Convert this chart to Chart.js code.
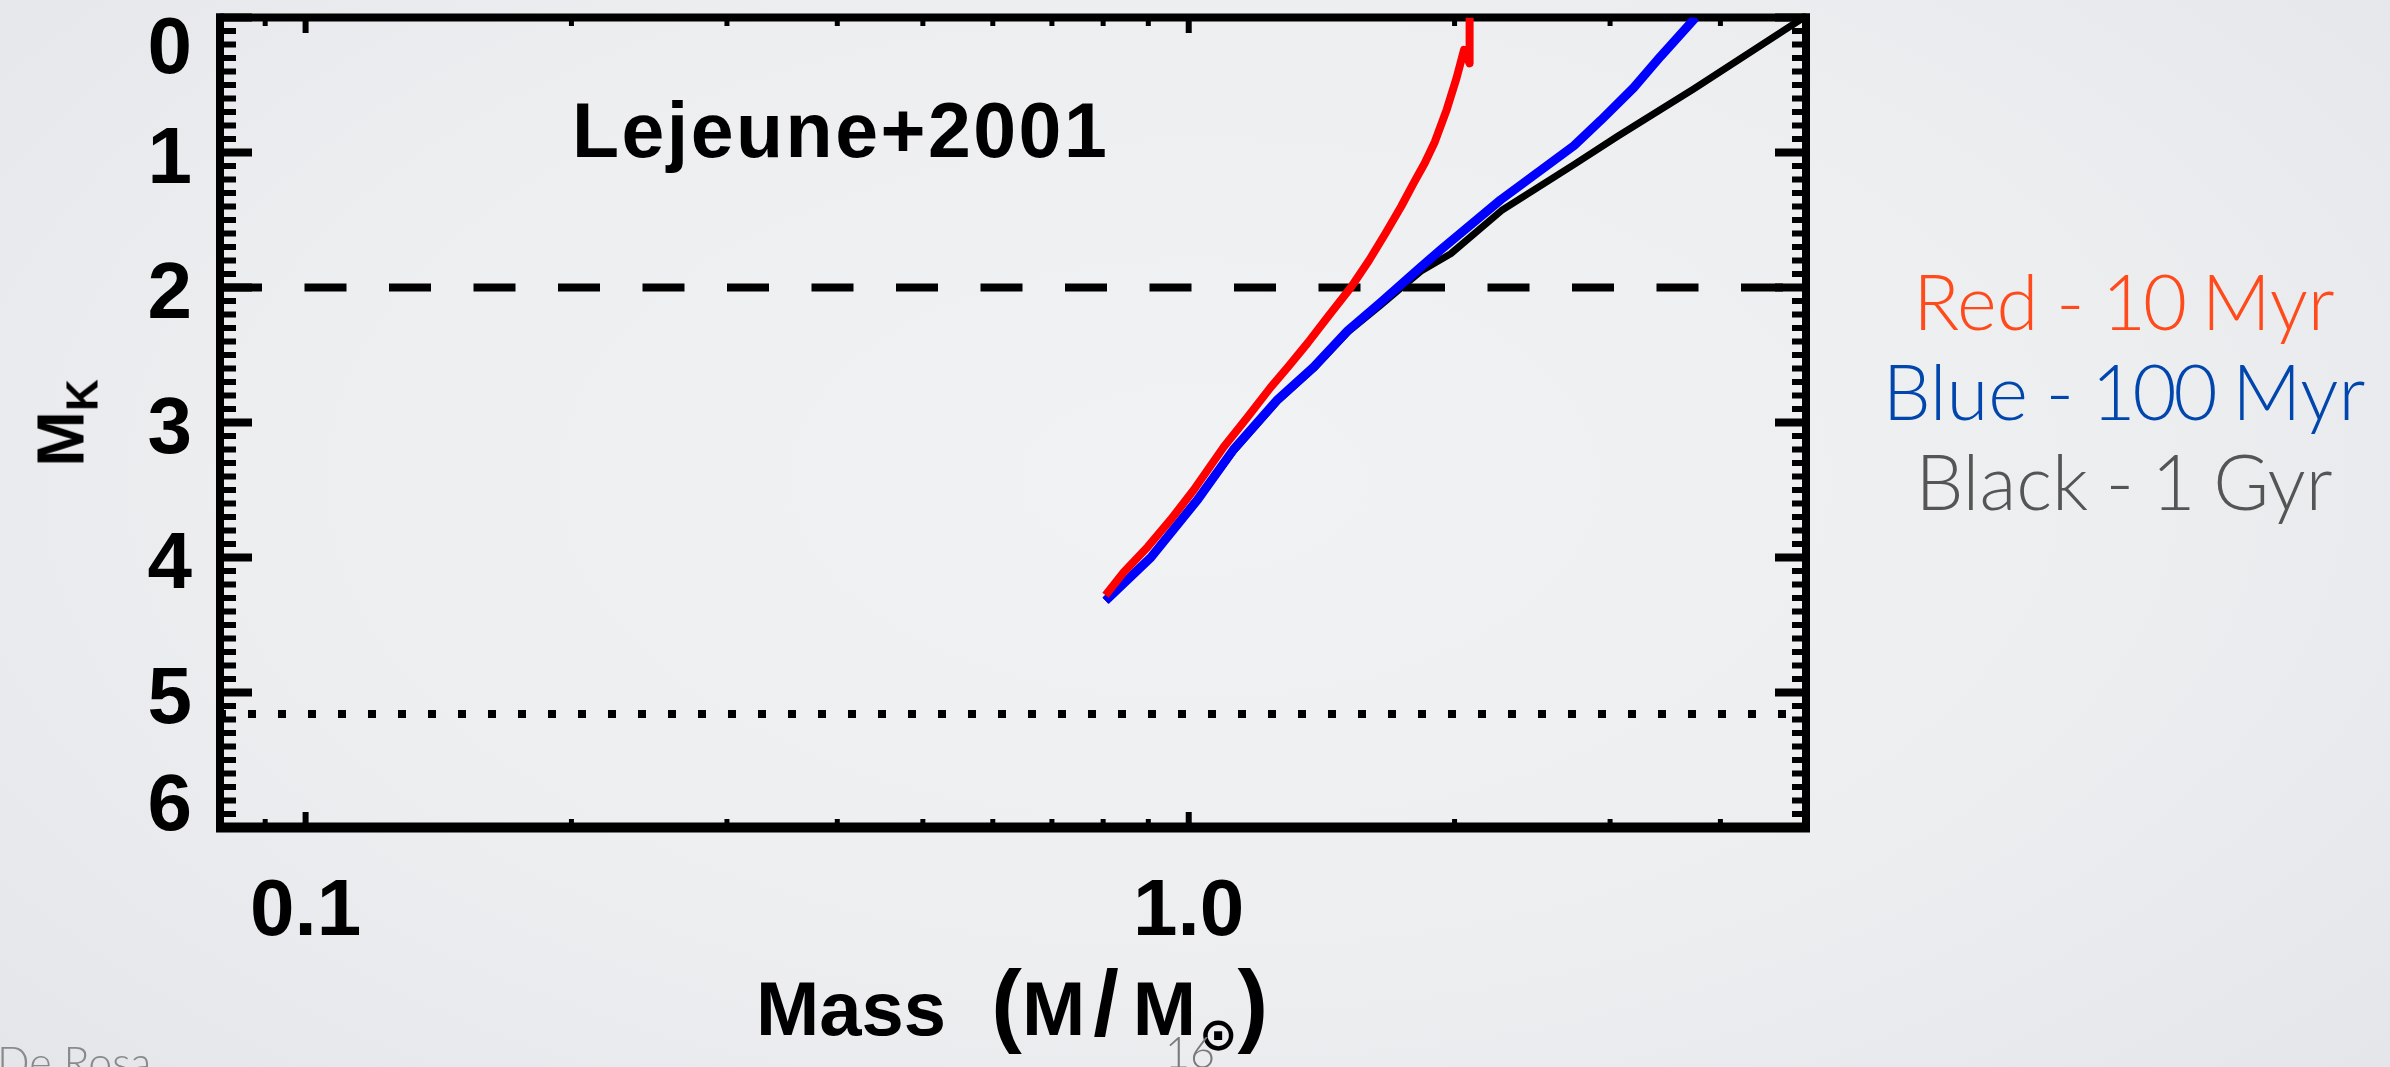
<!DOCTYPE html>
<html lang="en">
<head>
<meta charset="utf-8">
<title>Lejeune+2001 isochrones</title>
<script src="https://cdn.jsdelivr.net/npm/chart.js@4.4.1/dist/chart.umd.min.js"></script>
<style>
  html, body { margin: 0; padding: 0; }
  body {
    position: relative;
    width: 2390px;
    height: 1067px;
    overflow: hidden;
    background: radial-gradient(ellipse 70% 85% at 50% 45%, #f1f2f4 0%, #eceef0 55%, #e4e5e9 100%);
  }
  #isochrones { position: absolute; left: 0; top: 0; }
  .txt { position: absolute; white-space: nowrap; line-height: 1; }
  .idl { font-family: "Liberation Sans", Arial, sans-serif; font-weight: bold; color: #000; }
  .slide { font-family: Lato, "Open Sans", sans-serif; font-weight: 300; }
  #inset { left: 572px; top: 92px; font-size: 77px; letter-spacing: 2.5px; }
  #xtitle { left: 756px; top: 971px; font-size: 76px; }
  #xtitle span { line-height: 0; }
  #xtitle .par { font-size: 92px; }
  #xtitle .open { margin-left: 24px; }
  #xtitle .sl { font-size: 92px; margin: 0 14px 0 8px; }
  #xtitle .sun { font-family: "DejaVu Sans", sans-serif; font-size: 46px; position: relative; top: 15px; margin-left: 3px; }
  #ytitle { left: 60px; top: 423px; font-size: 67px; transform: translate(-50%, -50%) rotate(-90deg); }
  #ytitle .sub { font-size: 44px; position: relative; top: 14px; }
  .key { left: 1824px; width: 600px; text-align: center; font-size: 76px; word-spacing: -3px; }
  .key .n { letter-spacing: -3px; }
  #k10 { top: 263px; color: #ff4a1c; }
  #k100 { top: 353px; color: #0046ad; }
  #k1g { top: 443px; color: #555; }
  #author { left: -3px; top: 1040px; font-size: 43px; color: #8a8a8a; }
  #page { left: 1165px; top: 1030px; font-size: 43px; color: #7a7a7a; }
</style>
</head>
<body>
<canvas id="isochrones" width="2390" height="1067"></canvas>

<div id="inset" class="txt idl">Lejeune+2001</div>
<div id="xtitle" class="txt idl">Mass <span class="par open">(</span>M<span class="sl">/</span>M<span class="sun">⊙</span><span class="par">)</span></div>
<div id="ytitle" class="txt idl">M<span class="sub">K</span></div>

<div id="k10" class="txt slide key">Red - <span class="n">10</span> Myr</div>
<div id="k100" class="txt slide key">Blue - <span class="n">100</span> Myr</div>
<div id="k1g" class="txt slide key">Black - 1 Gyr</div>

<div id="author" class="txt slide">De Rosa</div>
<div id="page" class="txt slide">16</div>

<script>
// isochrones: stellar mass (Msun) vs absolute K magnitude
const redMass = [0.805, 0.844, 0.899, 0.954, 1.013, 1.096, 1.166, 1.238, 1.295, 1.364, 1.436, 1.526,
                 1.60, 1.67, 1.74, 1.80, 1.85, 1.90, 1.96, 2.01, 2.05, 2.08, 2.08];
const redMk   = [4.28, 4.11, 3.92, 3.72, 3.50, 3.18, 2.96, 2.74, 2.59, 2.41, 2.22, 2.00,
                 1.80, 1.60, 1.40, 1.22, 1.08, 0.92, 0.68, 0.45, 0.24, 0.34, 0.0];

const blueMass = [0.805, 0.906, 1.024, 1.124, 1.261, 1.385, 1.514, 1.650, 1.831, 1.93, 2.256, 2.73,
                  2.93, 3.19, 3.42, 3.75];
const blueMk   = [4.32, 4.00, 3.57, 3.20, 2.83, 2.59, 2.32, 2.11, 1.85, 1.72, 1.35, 0.95,
                  0.76, 0.52, 0.29, 0.0];

const blackMass = [0.805, 0.906, 1.024, 1.124, 1.261, 1.385, 1.514, 1.650, 1.831, 1.98, 2.26, 2.73,
                   3.06, 3.73, 4.97];
const blackMk   = [4.32, 4.00, 3.57, 3.21, 2.84, 2.60, 2.33, 2.13, 1.88, 1.75, 1.43, 1.09,
                   0.88, 0.53, 0.0];

// detection limits
const dashedLimit = 2.0;
const dottedLimit = 5.16;

// axes
const massRange = [0.08, 5.0];
const mkRange = [0, 6];
const xTickValues = [0.1, 1];
const xTickLabels = ['0.1', '1.0'];
const xMinorValues = [0.09, 0.2, 0.3, 0.4, 0.5, 0.6, 0.7, 0.8, 0.9, 2, 3, 4];
const yTickValues = [0, 1, 2, 3, 4, 5, 6];
const yTickLabels = ['0', '1', '2', '3', '4', '5', '6'];
const yMinorStep = 0.1;

const pairs = (xs, ys) => xs.map((v, i) => ({x: v, y: ys[i]}));
const across = (v) => [{x: massRange[0], y: v}, {x: massRange[1], y: v}];

const FRAME = 8;

// IDL-style box with inward ticks on all four sides, drawn under the curves
const idlBox = {
  id: 'idlBox',
  beforeDatasetsDraw(chart) {
    const {ctx, chartArea: a, scales: {x, y}} = chart;
    ctx.save();
    ctx.fillStyle = '#000';

    xMinorValues.forEach(v => {
      const px = x.getPixelForValue(v);
      ctx.fillRect(px - 2.5, a.top, 5, 8.5);
      ctx.fillRect(px - 2.5, a.bottom - 8.5, 5, 8.5);
    });
    xTickValues.forEach(v => {
      const px = x.getPixelForValue(v);
      ctx.fillRect(px - 3, a.top, 6, 15.5);
      ctx.fillRect(px - 3, a.bottom - 15.5, 6, 15.5);
    });

    const nMinor = Math.round((mkRange[1] - mkRange[0]) / yMinorStep);
    for (let i = 1; i < nMinor; i++) {
      const v = mkRange[0] + i * yMinorStep;
      if (Math.abs(v - Math.round(v)) < 1e-6) continue;
      const py = y.getPixelForValue(v);
      ctx.fillRect(a.left, py - 3, 16, 6);
      ctx.fillRect(a.right - 14, py - 3, 14, 6);
    }
    yTickValues.forEach(v => {
      const py = y.getPixelForValue(v);
      ctx.fillRect(a.left, py - 4, 32, 8);
      ctx.fillRect(a.right - 31, py - 4, 31, 8);
    });

    // frame
    ctx.fillRect(a.left - FRAME / 2, a.top - FRAME / 2, a.width + FRAME, FRAME);
    ctx.fillRect(a.left - FRAME / 2, a.bottom - 5, a.width + FRAME, 10);
    ctx.fillRect(a.left - FRAME / 2, a.top - FRAME / 2, FRAME, a.height + FRAME);
    ctx.fillRect(a.right - FRAME / 2, a.top - FRAME / 2, FRAME, a.height + FRAME);

    // magnitude labels, the end ones pulled inside the box
    ctx.font = 'bold 80px "Liberation Sans", Arial, sans-serif';
    ctx.textAlign = 'right';
    ctx.textBaseline = 'alphabetic';
    const last = yTickValues.length - 1;
    yTickValues.forEach((v, i) => {
      let base = y.getPixelForValue(v) + 30.5;
      if (i === 0) base += 25;
      if (i === last) base -= 28;
      ctx.save();
      ctx.beginPath();
      ctx.rect(0, 0, a.left, a.bottom + 5);
      ctx.clip();
      ctx.fillText(yTickLabels[i], a.left - 28, base);
      ctx.restore();
    });
    ctx.restore();
  }
};

const line = (label, data, color, width, extra) => Object.assign({
  label, data,
  borderColor: color,
  borderWidth: width,
  pointRadius: 0,
  tension: 0,
  fill: false,
  borderCapStyle: 'butt',
  borderJoinStyle: 'round'
}, extra || {});

new Chart(document.getElementById('isochrones'), {
  type: 'line',
  data: {
    datasets: [
      line('10 Myr', pairs(redMass, redMk), '#ff0000', 8),
      line('100 Myr', pairs(blueMass, blueMk), '#0000ff', 9),
      line('1 Gyr', pairs(blackMass, blackMk), '#000000', 7),
      line('limit', across(dashedLimit), '#000000', 8, {borderDash: [42, 42.5]}),
      line('limit', across(dottedLimit), '#000000', 8, {borderDash: [8, 22], borderDashOffset: 2})
    ]
  },
  options: {
    responsive: false,
    animation: false,
    devicePixelRatio: 1,
    layout: {padding: {top: 17.5, right: 584, left: 0, bottom: 0}},
    plugins: {legend: {display: false}, tooltip: {enabled: false}},
    scales: {
      x: {
        type: 'logarithmic',
        min: massRange[0],
        max: massRange[1],
        grid: {display: false, drawTicks: false},
        border: {display: false},
        afterBuildTicks: (s) => { s.ticks = xTickValues.map(v => ({value: v})); },
        afterFit: (s) => { s.height = 1067 - 827.5; },
        ticks: {
          autoSkip: false,
          maxRotation: 0,
          padding: 37,
          color: '#000',
          font: {family: '"Liberation Sans", Arial, sans-serif', size: 80, weight: 'bold'},
          callback: (v, i) => xTickLabels[i]
        }
      },
      y: {
        type: 'linear',
        min: mkRange[0],
        max: mkRange[1],
        reverse: true,
        grid: {display: false, drawTicks: false},
        border: {display: false},
        afterFit: (s) => { s.width = 220; },
        ticks: {display: false}
      }
    }
  },
  plugins: [idlBox]
});
</script>
</body>
</html>
